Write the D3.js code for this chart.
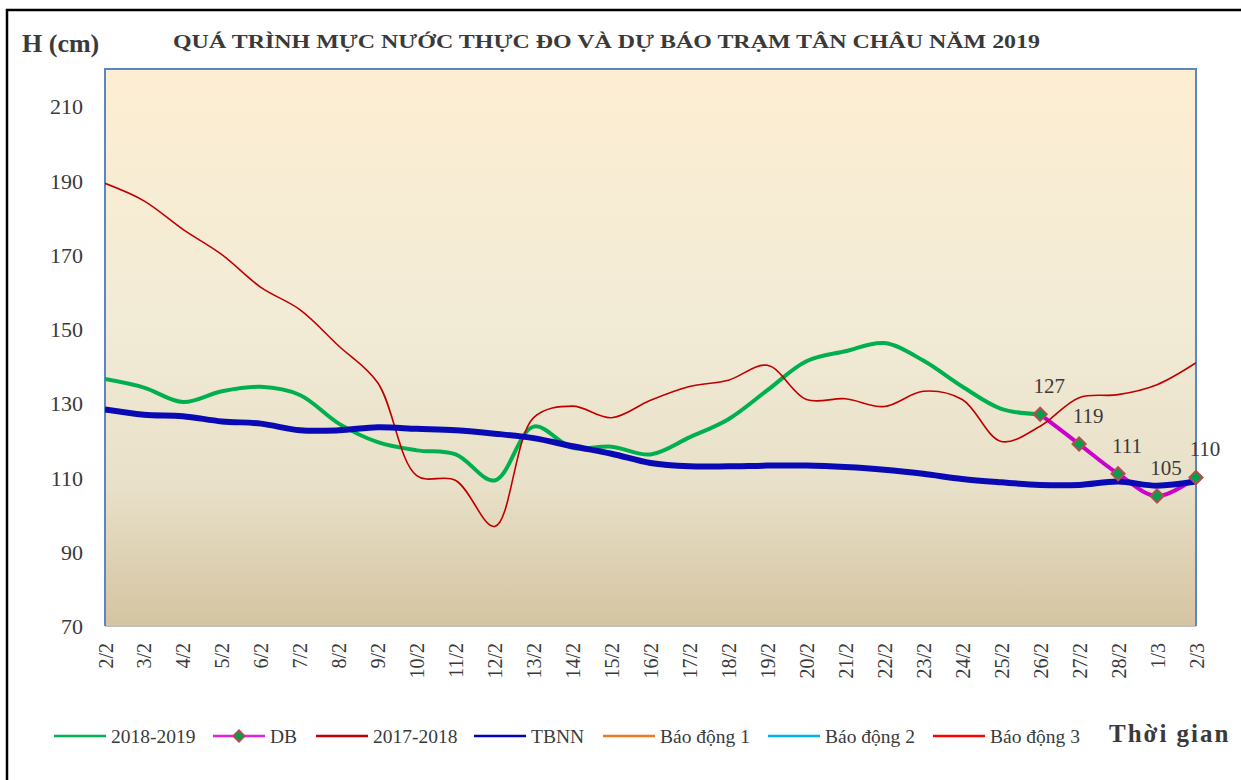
<!DOCTYPE html>
<html>
<head>
<meta charset="utf-8">
<script src="https://cdn.jsdelivr.net/npm/d3@7"></script>
<style>
  html, body { margin: 0; padding: 0; background: #fff; }
  svg { display: block; }
  text { font-family: "Liberation Serif", "Times New Roman", serif; fill: #3a3a3a; }
</style>
</head>
<body>
<svg id="chart" width="1241" height="780"></svg>
<script>
// ---------------- data ----------------
const categories = ["2/2","3/2","4/2","5/2","6/2","7/2","8/2","9/2","10/2","11/2","12/2","13/2","14/2","15/2","16/2","17/2","18/2","19/2","20/2","21/2","22/2","23/2","24/2","25/2","26/2","27/2","28/2","1/3","2/3"];
const s20182019 = [136.5,134.2,130.3,133.2,134.4,132.2,124.5,119.5,117.3,116.2,109.2,123.7,118,118.3,116.2,120.8,125.7,133.5,141.3,144,146.2,141.5,134.5,128.5,127,null,null,null,null];
const sDB = [null,null,null,null,null,null,null,null,null,null,null,null,null,null,null,null,null,null,null,null,null,null,null,null,127,119,111,105,110];
const s20172018 = [189.2,184.5,176.8,170,161.2,155.2,145.4,135.5,110.5,109.2,96.8,126.1,129.2,126.1,130.8,134.5,136.2,140.2,131,131.2,129.1,133.2,131,119.7,123.8,131.5,132.3,135,140.9];
const sTBNN = [128.3,126.9,126.5,125.1,124.5,122.7,122.7,123.5,123.1,122.7,121.8,120.6,118.4,116.4,113.9,113,113,113.2,113.2,112.8,112.1,111,109.6,108.7,108,108,108.9,107.8,108.9];
const yTicks = [70,90,110,130,150,170,190,210];
const legendNames = ["2018-2019","DB","2017-2018","TBNN","Báo động 1","Báo động 2","Báo động 3"];
const titleText = "QUÁ TRÌNH MỰC NƯỚC THỰC ĐO VÀ DỰ BÁO TRẠM TÂN CHÂU NĂM 2019";

// ---------------- layout ----------------
const svg = d3.select("#chart");
const plot = {left: 105, right: 1196, top: 69, bottom: 626};

const x = d3.scalePoint().domain(categories).range([plot.left, plot.right]);
const y = d3.scaleLinear().domain([70, 220]).range([plot.bottom, plot.top]);

// outer border
svg.append("rect").attr("x", 7).attr("y", 10).attr("width", 1250).attr("height", 800)
  .attr("fill", "none").attr("stroke", "#000").attr("stroke-width", 2.5);

// gradient background
const defs = svg.append("defs");
const grad = defs.append("linearGradient").attr("id", "bg").attr("x1", 0).attr("y1", 0).attr("x2", 0).attr("y2", 1);
[[0, "#FDEED2"], [0.45, "#F2EBD6"], [0.75, "#E8E0C8"], [1, "#D4C4A1"]].forEach(([o, c]) =>
  grad.append("stop").attr("offset", o).attr("stop-color", c));

svg.append("rect").attr("x", plot.left).attr("y", plot.top)
  .attr("width", plot.right - plot.left).attr("height", plot.bottom - plot.top)
  .attr("fill", "url(#bg)");

// clip
defs.append("clipPath").attr("id", "clip").append("rect")
  .attr("x", plot.left).attr("y", plot.top).attr("width", plot.right - plot.left).attr("height", plot.bottom - plot.top);

// plot border
svg.append("line").attr("x1", plot.left).attr("x2", plot.right).attr("y1", plot.bottom).attr("y2", plot.bottom)
  .attr("stroke", "#BFBFBF").attr("stroke-width", 2);
svg.append("path")
  .attr("d", `M${plot.left},${plot.bottom}V${plot.top}H${plot.right}V${plot.bottom}`)
  .attr("fill", "none").attr("stroke", "#5B86BF").attr("stroke-width", 2);

// Y axis
const yAxis = d3.axisLeft(y).tickValues(yTicks).tickSize(0).tickPadding(0);
const gy = svg.append("g").attr("transform", `translate(83,0)`).call(yAxis);
gy.select(".domain").remove();
gy.selectAll("text").style("font-size", "22px").style("font-family", "Liberation Serif").attr("fill", "#3a3a3a").attr("dy", "0.35em");

// X axis
const xAxis = d3.axisBottom(x).tickSize(0).tickPadding(0);
const gx = svg.append("g").attr("transform", `translate(0,${plot.bottom})`).call(xAxis);
gx.select(".domain").remove();
gx.selectAll("text")
  .style("font-size", "20px").style("font-family", "Liberation Serif").attr("fill", "#3a3a3a")
  .attr("text-anchor", "end").attr("dy", null)
  .attr("transform", "translate(7,17) rotate(-90)").attr("y", 0).attr("x", 0);

// lines
const curve = d3.curveCatmullRom.alpha(0.5);
const lineGen = d3.line().defined(d => d.v != null).x(d => x(d.c)).y(d => y(d.v)).curve(curve);
const toPts = arr => arr.map((v, i) => ({c: categories[i], v}));

const gl = svg.append("g").attr("clip-path", "url(#clip)");
gl.append("path").attr("d", lineGen(toPts(s20182019))).attr("fill", "none").attr("stroke", "#00B050").attr("stroke-width", 4);
gl.append("path").attr("d", lineGen(toPts(sDB))).attr("fill", "none").attr("stroke", "#CC00CC").attr("stroke-width", 4);
gl.append("path").attr("d", lineGen(toPts(s20172018))).attr("fill", "none").attr("stroke", "#C00000").attr("stroke-width", 1.6);
gl.append("path").attr("d", lineGen(toPts(sTBNN))).attr("fill", "none").attr("stroke", "#0A0AB4").attr("stroke-width", 6);

// DB markers
const diamond = d3.symbol().type(d3.symbolDiamond2).size(110);
const dbPts = toPts(sDB).filter(d => d.v != null);
svg.append("g").selectAll("path").data(dbPts).join("path")
  .attr("d", diamond)
  .attr("transform", d => `translate(${x(d.c)},${y(d.v)})`)
  .attr("fill", "#00A050").attr("stroke", "#B0504A").attr("stroke-width", 2);

// DB labels
svg.append("g").selectAll("text").data(dbPts).join("text")
  .attr("x", d => x(d.c) + 9).attr("y", d => y(d.v) - 21)
  .attr("text-anchor", "middle").style("font-size", "21px")
  .text(d => d.v);

// titles
svg.append("text").attr("x", 22).attr("y", 52).style("font-size", "26px").style("font-weight", "bold").text("H (cm)");
svg.append("text").attr("x", 173).attr("y", 48).style("font-size", "19px").style("font-weight", "bold")
  .attr("textLength", 867).attr("lengthAdjust", "spacingAndGlyphs").text(titleText);

// legend
const legendColors = ["#00B050","#E020E0","#C00000","#0000C0","#F07820","#00B0F0","#FF0000"];
const legendX = [54, 213, 316, 474, 603, 768, 933];
const ly = 736;
const lg = svg.append("g");
legendNames.forEach((name, i) => {
  const x0 = legendX[i];
  lg.append("line").attr("x1", x0).attr("x2", x0 + 52).attr("y1", ly).attr("y2", ly)
    .attr("stroke", legendColors[i]).attr("stroke-width", 2.5);
  if (name === "DB") {
    lg.append("path").attr("d", d3.symbol().type(d3.symbolDiamond2).size(80))
      .attr("transform", `translate(${x0 + 26},${ly})`)
      .attr("fill", "#00A050").attr("stroke", "#B0504A").attr("stroke-width", 2);
  }
  lg.append("text").attr("x", x0 + 57).attr("y", ly).attr("dy", "0.35em")
    .style("font-size", "19.5px").text(name);
});
svg.append("text").attr("x", 1109).attr("y", 742).style("font-size", "25px").style("font-weight", "bold")
  .style("letter-spacing", "2px").text("Thời gian");
</script>
</body>
</html>
